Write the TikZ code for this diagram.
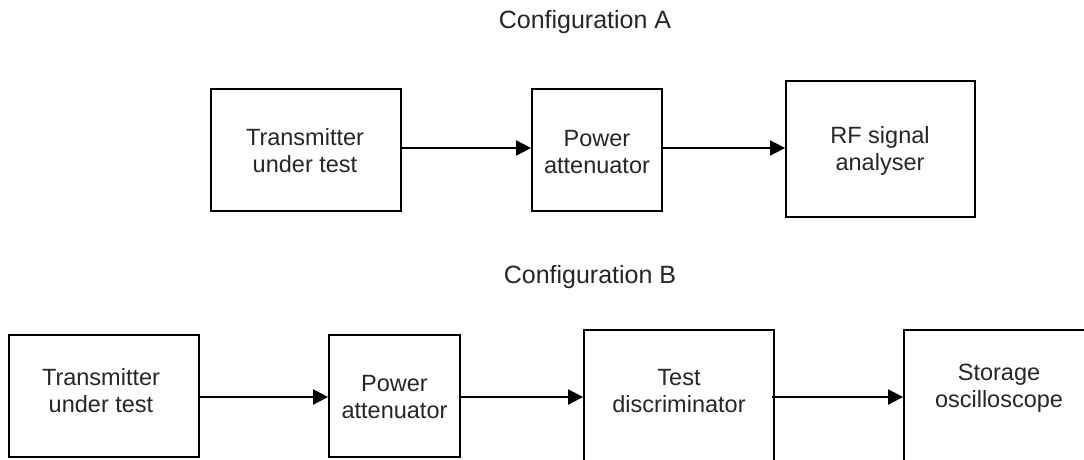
\documentclass[tikz,border=0pt]{standalone}
\usepackage{fontspec}
\setmainfont{Liberation Sans}
\usetikzlibrary{arrows.meta}
\begin{document}
\begin{tikzpicture}[x=1pt,y=-1pt,
  box/.style={draw=black, line width=1.8pt, rectangle, inner sep=0pt},
  lbl/.style={align=center, font=\fontsize{23.5}{27}\selectfont, text=black!85,
              inner sep=0pt, anchor=base},
  title/.style={font=\fontsize{25}{30}\selectfont, text=black!85, inner sep=0pt, anchor=base},
  arr/.style={line width=1.8pt, -{Triangle[length=15pt,width=15pt]}}]
\useasboundingbox (0,0) rectangle (1084,459);
\clip (0,0) rectangle (1084,459);
\fill[white] (0,0) rectangle (1084,459);

% titles
\node[title] (cfgA) at (585,28) {Configuration A};
\node[title] (cfgB) at (590,283) {Configuration B};

% configuration A boxes
\node[box, minimum width=190pt, minimum height=122pt] (transA) at (306,150) {};
\node[box, minimum width=130pt, minimum height=122pt] (powA) at (597,150) {};
\node[box, minimum width=189pt, minimum height=136pt] (rf) at (880.5,149) {};
\node[lbl] (transAt) at (305,172) {Transmitter\\under test};
\node[lbl] (powAt) at (597,173) {Power\\attenuator};
\node[lbl] (rft) at (880,170) {RF signal\\analyser};

% configuration B boxes
\node[box, minimum width=190pt, minimum height=122pt] (transB) at (104,396) {};
\node[box, minimum width=131pt, minimum height=122pt] (powB) at (394.5,396) {};
\node[box, minimum width=190pt, minimum height=150pt] (test) at (679,405) {};
\node[box, minimum width=196pt, minimum height=150pt] (stor) at (1002,405) {};
\node[lbl] (transBt) at (101,412) {Transmitter\\under test};
\node[lbl] (powBt) at (394.5,418) {Power\\attenuator};
\node[lbl] (testt) at (679,412) {Test\\discriminator};
\node[lbl] (stort) at (999,407) {Storage\\oscilloscope};

% connectors
\coordinate (ya) at (0,148);
\coordinate (yb) at (0,397);
\draw[arr] (transA.east |- ya) -- (powA.west |- ya);
\draw[arr] (powA.east |- ya) -- (rf.west |- ya);
\draw[arr] (transB.east |- yb) -- (powB.west |- yb);
\draw[arr] (powB.east |- yb) -- (test.west |- yb);
\draw[arr] ([xshift=-3pt]test.east |- yb) -- (stor.west |- yb);
\end{tikzpicture}
\end{document}
